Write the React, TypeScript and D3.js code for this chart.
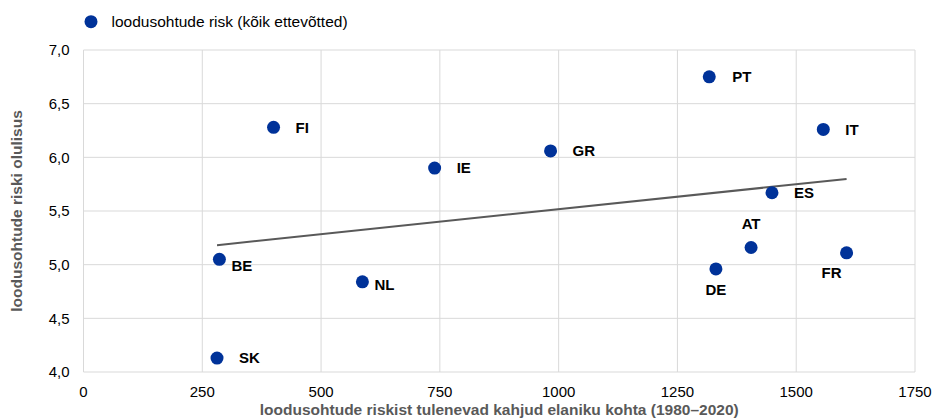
import React from 'react';
import * as d3 from 'd3';

const countries = ['FI', 'IE', 'GR', 'BE', 'NL', 'SK', 'PT', 'IT', 'ES', 'AT', 'DE', 'FR'];
const lossesPerCapita = [400, 739, 983, 286, 587, 281, 1317, 1557, 1449, 1405, 1331, 1606];
const riskImportance = [6.28, 5.9, 6.06, 5.05, 4.84, 4.13, 6.75, 6.26, 5.67, 5.16, 4.96, 5.11];
const xTicks = [0, 250, 500, 750, 1000, 1250, 1500, 1750];
const yTicks = [4.0, 4.5, 5.0, 5.5, 6.0, 6.5, 7.0];
const legendLabel = 'loodusohtude risk (kõik ettevõtted)';
const xTitle = 'loodusohtude riskist tulenevad kahjud elaniku kohta (1980–2020)';
const yTitle = 'loodusohtude riski olulisus';

// label placement relative to each dot (layout only)
const labelPlacement: Record<string, [number, number, string]> = {
  FI: [22, 0, 'start'],
  IE: [22, 0, 'start'],
  GR: [22, 0, 'start'],
  PT: [23, 0, 'start'],
  IT: [22, 0, 'start'],
  ES: [22, 0, 'start'],
  SK: [22, 0, 'start'],
  BE: [12, 6, 'start'],
  NL: [12, 3, 'start'],
  AT: [0, -24, 'middle'],
  DE: [0, 21, 'middle'],
  FR: [-15, 20, 'middle'],
};

const W = 933;
const H = 419;
const left = 83.5;
const right = 915;
const top = 50;
const bottom = 372;
const BLUE = '#003299';
const FONT = 'Arial, "Liberation Sans", Helvetica, sans-serif';

export default function App() {
  const x = d3.scaleLinear().domain([0, 1750]).range([left, right]);
  const y = d3.scaleLinear().domain([4, 7]).range([bottom, top]);
  const fmtY = (v: number) => d3.format('.1f')(v).replace('.', ',');

  const pts = countries.map((c, i) => ({ c, x: lossesPerCapita[i], y: riskImportance[i] }));
  const mx = d3.mean(pts, (p) => p.x)!;
  const my = d3.mean(pts, (p) => p.y)!;
  const sxy = d3.sum(pts, (p) => (p.x - mx) * (p.y - my));
  const sxx = d3.sum(pts, (p) => (p.x - mx) ** 2);
  const slope = sxy / sxx;
  const icpt = my - slope * mx;
  const [x0, x1] = d3.extent(pts, (p) => p.x) as [number, number];
  const trend = d3.line<number>()
    .x((v) => x(v))
    .y((v) => y(icpt + slope * v))([x0, x1]);

  return (
    <svg width={W} height={H} style={{ position: 'absolute', left: 0, top: 0, background: '#fff' }} fontFamily={FONT}>
      <rect width={W} height={H} fill="#fff" />
      {/* gridlines */}
      {xTicks.map((t) => (
        <line key={'gx' + t} x1={x(t)} x2={x(t)} y1={top} y2={bottom} stroke="#d9d9d9" strokeWidth={1} />
      ))}
      {yTicks.map((t) => (
        <line key={'gy' + t} x1={left} x2={right} y1={y(t)} y2={y(t)} stroke="#d9d9d9" strokeWidth={1} />
      ))}
      {/* tick labels */}
      {yTicks.map((t) => (
        <text key={'ty' + t} x={left - 14} y={y(t)} dy="0.35em" textAnchor="end" fontSize={15} fill="#000">
          {fmtY(t)}
        </text>
      ))}
      {xTicks.map((t) => (
        <text key={'tx' + t} x={x(t)} y={bottom + 19.5} dy="0.35em" textAnchor="middle" fontSize={15} fill="#000">
          {t}
        </text>
      ))}
      {/* trend line */}
      <path d={trend || ''} fill="none" stroke="#595959" strokeWidth={2} />
      {/* points */}
      {pts.map((p) => (
        <circle key={p.c} cx={x(p.x)} cy={y(p.y)} r={6.5} fill={BLUE} />
      ))}
      {pts.map((p) => {
        const [dx, dy, anchor] = labelPlacement[p.c];
        return (
          <text key={'l' + p.c} x={x(p.x) + dx} y={y(p.y) + dy} dy="0.35em" textAnchor={anchor as any}
            fontSize={15} fontWeight="bold" fill="#000">
            {p.c}
          </text>
        );
      })}
      {/* axis titles */}
      <text x={(left + right) / 2} y={409.6} dy="0.35em" textAnchor="middle" fontSize={15.5} fontWeight="bold" fill="#595959">
        {xTitle}
      </text>
      <text transform={`translate(16.5,${(top + bottom) / 2}) rotate(-90)`} dy="0.35em" textAnchor="middle"
        fontSize={15.5} fontWeight="bold" fill="#595959">
        {yTitle}
      </text>
      {/* legend */}
      <circle cx={91} cy={21.7} r={6.5} fill={BLUE} />
      <text x={111.5} y={22} dy="0.35em" fontSize={15.5} fill="#000">{legendLabel}</text>
    </svg>
  );
}
